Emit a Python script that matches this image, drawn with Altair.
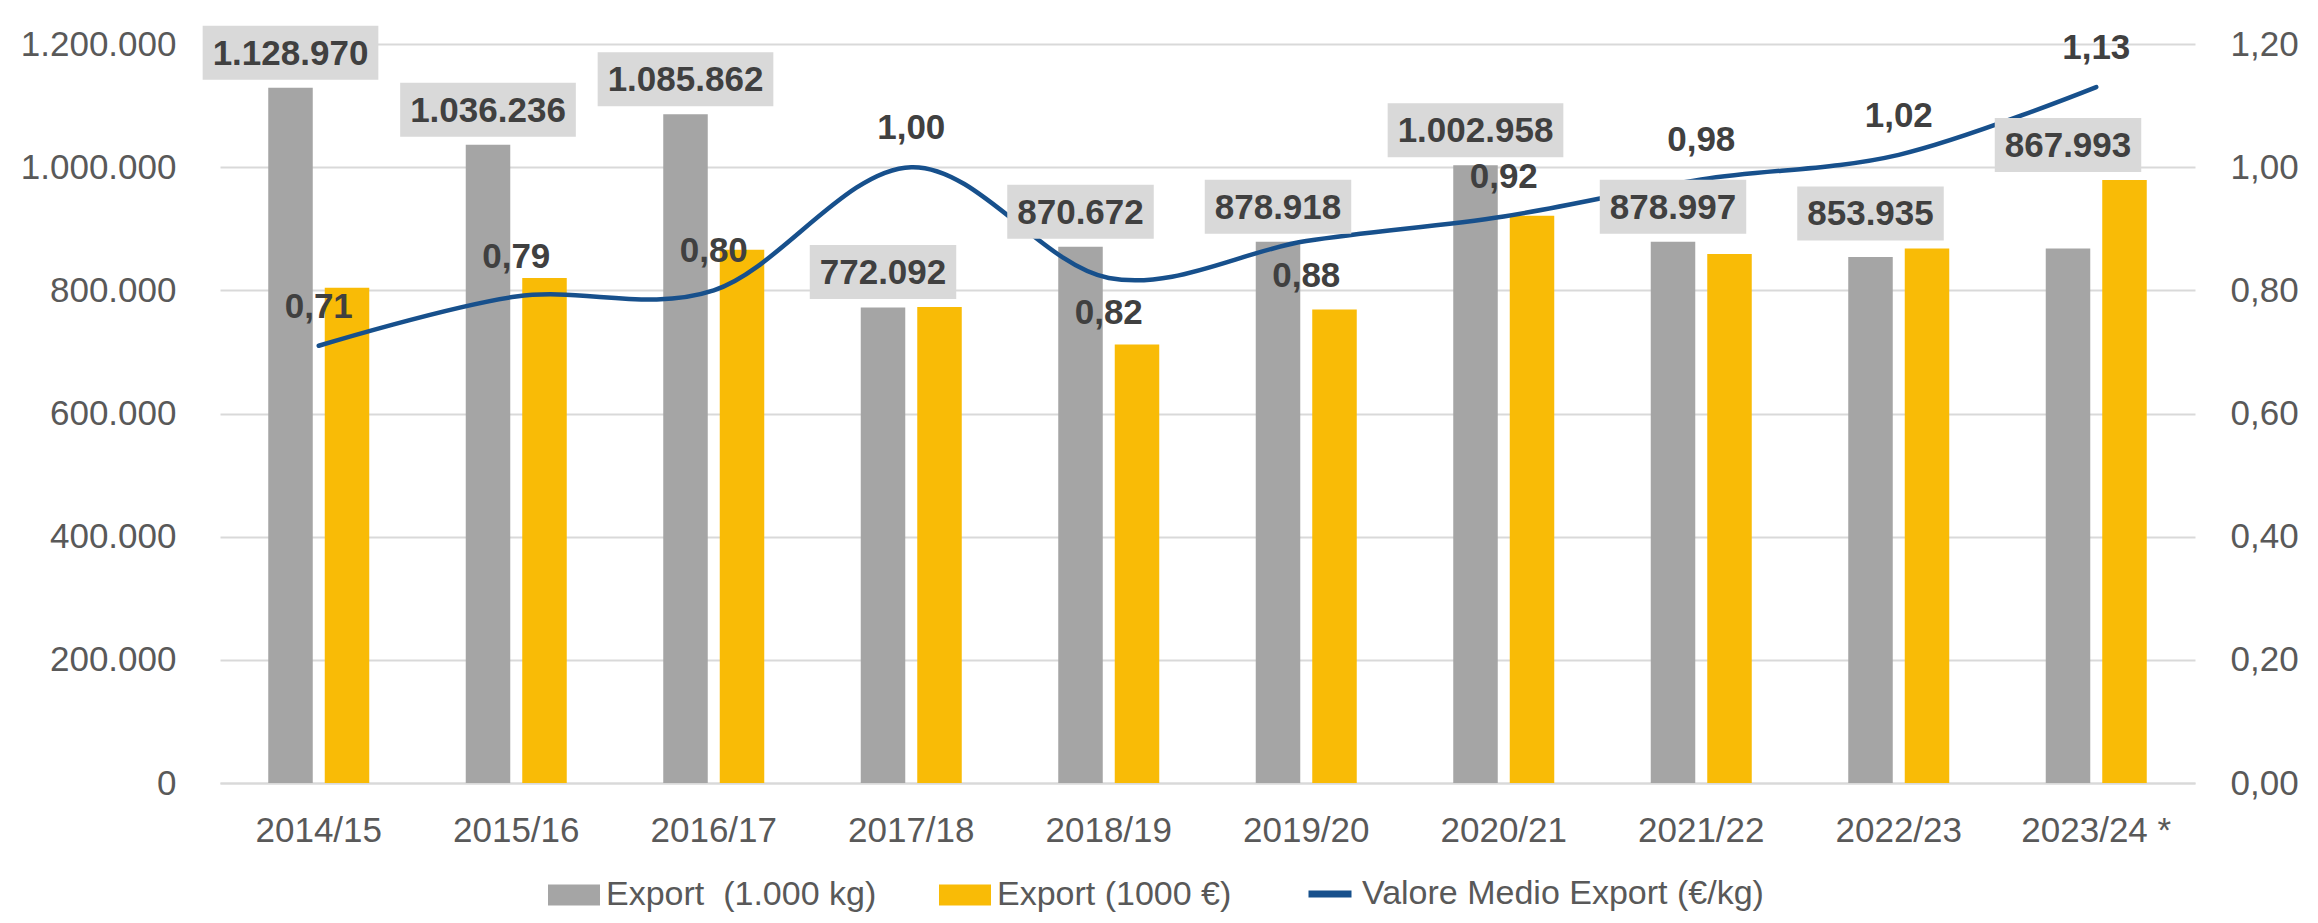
import altair as alt
import pandas as pd

# ---------------- data ----------------
categories = ["2014/15", "2015/16", "2016/17", "2017/18", "2018/19",
              "2019/20", "2020/21", "2021/22", "2022/23", "2023/24 *"]
export_kg = [1128970, 1036236, 1085862, 772092, 870672,
             878918, 1002958, 878997, 853935, 867993]
export_eur = [804000, 820000, 866000, 773000, 712000,
              769000, 921000, 859000, 868000, 979000]
avg_price = [0.71, 0.79, 0.80, 1.00, 0.82, 0.88, 0.92, 0.98, 1.02, 1.13]

S_KG = "Export\u00a0 (1.000 kg)"
S_EUR = "Export (1000 €)"
S_AVG = "Valore Medio Export (€/kg)"

left_ticks = [0, 200000, 400000, 600000, 800000, 1000000, 1200000]
right_ticks = [0.0, 0.2, 0.4, 0.6, 0.8, 1.0, 1.2]

# ---------------- style ----------------
GREY = "#A5A5A5"
YELLOW = "#F9BB06"
BLUE = "#17508C"
BOX = "#D9D9D9"
LABEL = "#404040"
AXIS_TXT = "#595959"
GRID = "#D9D9D9"
FONT = "Liberation Sans"

PLOT_W, PLOT_H = 1975, 739
STEP = PLOT_W / len(categories)
GROUP_W, BAR_W = 101.0, 44.5
PI_X = 1 - GROUP_W / STEP
PO_X = PI_X / 2
PI_OFF = (GROUP_W - 2 * BAR_W) / (GROUP_W - BAR_W)
GREY_DX = BAR_W / 2 - GROUP_W / 2

LABEL_FS = 35
BOX_PAD, BOX_GAP, BOX_H = 10, 8, 54
TXT_H = 25
ABOVE_DY, BELOW_DY = -28, 46
PPU = PLOT_H / 1.2  # pixels per right-axis unit (== per 1e6 on left axis)


def text_w(s):
    return sum(0.278 if c in ".," else 0.556 for c in s) * LABEL_FS


def thousands(v):
    return f"{v:,}".replace(",", ".")


rows = []
for c, kg, eur, r in zip(categories, export_kg, export_eur, avg_price):
    anchor = max(kg, eur)
    hw = text_w(thousands(kg)) / 2 + BOX_PAD
    x0, x1 = GREY_DX - hw, GREY_DX + hw
    path = f"M{x0:.2f},{-(BOX_GAP + BOX_H)}H{x1:.2f}V{-BOX_GAP}H{x0:.2f}Z"
    a = anchor / 1e6
    collide = (r + (-ABOVE_DY + TXT_H) / PPU > a + BOX_GAP / PPU) and \
              (r + (-ABOVE_DY) / PPU < a + (BOX_GAP + BOX_H) / PPU)
    rows.append(dict(cat=c, kg=kg, eur=eur, ratio=r, anchor=anchor,
                     box=path, side="below" if collide else "above",
                     lname=S_AVG))
df = pd.DataFrame(rows)

bars_df = pd.concat([
    pd.DataFrame({"cat": categories, "series": S_KG, "val": export_kg}),
    pd.DataFrame({"cat": categories, "series": S_EUR, "val": export_eur}),
])

# ---------------- encodings ----------------
x_enc = alt.X(
    "cat:N", sort=categories,
    scale=alt.Scale(domain=categories, paddingInner=PI_X, paddingOuter=PO_X),
    axis=alt.Axis(labelAngle=0, labelFont=FONT, labelFontSize=35,
                  labelColor=AXIS_TXT, labelPadding=30, ticks=False,
                  domainColor=GRID, domainWidth=2, title=None, grid=False),
)
left_scale = alt.Scale(domain=[0, 1200000], nice=False, zero=True)
right_scale = alt.Scale(domain=[0, 1.2], nice=False, zero=True)

left_axis = alt.Axis(orient="left", values=left_ticks, format=",.0f",
                     labelFont=FONT, labelFontSize=35, labelColor=AXIS_TXT,
                     labelPadding=44, ticks=False, tickSize=0, domain=False,
                     grid=True, gridColor=GRID, gridWidth=2, title=None)
right_axis = alt.Axis(orient="right", values=right_ticks, format=".2f",
                      labelFont=FONT, labelFontSize=35, labelColor=AXIS_TXT,
                      labelPadding=35, ticks=False, tickSize=0, domain=False,
                      grid=False, title=None)

bar_legend = alt.Legend(title=None, orient="none", legendX=328, legendY=825,
                        direction="horizontal",
                        symbolType="M-1,-0.4H1V0.4H-1Z", symbolSize=2704,
                        symbolStrokeWidth=0, symbolOpacity=1,
                        labelFont=FONT, labelFontSize=34, labelColor=AXIS_TXT,
                        labelOffset=6, columnPadding=62, labelLimit=1000,
                        padding=0)
line_legend = alt.Legend(title=None, orient="none", legendX=1085, legendY=825,
                         direction="horizontal", symbolType="stroke",
                         symbolSize=1849, symbolStrokeWidth=7,
                         labelFont=FONT, labelFontSize=34, labelColor=AXIS_TXT,
                         labelOffset=7, labelLimit=1000, padding=0)

bars = alt.Chart(bars_df).mark_bar().encode(
    x=x_enc,
    xOffset=alt.XOffset("series:N", sort=[S_KG, S_EUR],
                        scale=alt.Scale(domain=[S_KG, S_EUR],
                                        paddingInner=PI_OFF, paddingOuter=0)),
    y=alt.Y("val:Q", scale=left_scale, axis=left_axis),
    color=alt.Color("series:N",
                    scale=alt.Scale(domain=[S_KG, S_EUR], range=[GREY, YELLOW]),
                    legend=bar_legend),
)

line = alt.Chart(df).mark_line(interpolate="cardinal", tension=0,
                               strokeWidth=4.5, strokeCap="round").encode(
    x=x_enc,
    y=alt.Y("ratio:Q", scale=right_scale, axis=right_axis),
    stroke=alt.Stroke("lname:N", scale=alt.Scale(domain=[S_AVG], range=[BLUE]),
                      legend=line_legend),
)

boxes = alt.Chart(df).mark_point(filled=True, size=4, opacity=1, color=BOX,
                                 strokeWidth=0).encode(
    x=x_enc,
    y=alt.Y("anchor:Q", scale=left_scale, axis=None),
    shape=alt.Shape("box:N", scale=None),
)

kg_text = alt.Chart(df).mark_text(font=FONT, fontSize=LABEL_FS, fontWeight="bold",
                                  color=LABEL, dx=GREY_DX,
                                  dy=-(BOX_GAP + 15), baseline="alphabetic",
                                  align="center").encode(
    x=x_enc,
    y=alt.Y("anchor:Q", scale=left_scale, axis=None),
    text=alt.Text("kg:Q", format=",.0f"),
)

lbl_above = alt.Chart(df).transform_filter(alt.datum.side == "above").mark_text(
    font=FONT, fontSize=LABEL_FS, fontWeight="bold", color=LABEL,
    dy=ABOVE_DY, baseline="alphabetic", align="center").encode(
    x=x_enc,
    y=alt.Y("ratio:Q", scale=right_scale, axis=None),
    text=alt.Text("ratio:Q", format=".2f"),
)
lbl_below = alt.Chart(df).transform_filter(alt.datum.side == "below").mark_text(
    font=FONT, fontSize=LABEL_FS, fontWeight="bold", color=LABEL,
    dy=BELOW_DY, baseline="alphabetic", align="center").encode(
    x=x_enc,
    y=alt.Y("ratio:Q", scale=right_scale, axis=None),
    text=alt.Text("ratio:Q", format=".2f"),
)

chart = alt.layer(bars, line, boxes, kg_text, lbl_above, lbl_below).resolve_scale(
    y="independent"
).properties(
    width=PLOT_W, height=PLOT_H,
    autosize=alt.AutoSizeParams(type="none"),
    padding={"left": 212, "top": 36, "right": 110, "bottom": 130},
).configure(
    font=FONT,
    locale={"number": {"decimal": ",", "thousands": ".", "grouping": [3],
                       "currency": ["", "\u00a0€"]}},
).configure_view(strokeWidth=0)

chart.save("out.html", embed_options={"renderer": "svg", "actions": False})
